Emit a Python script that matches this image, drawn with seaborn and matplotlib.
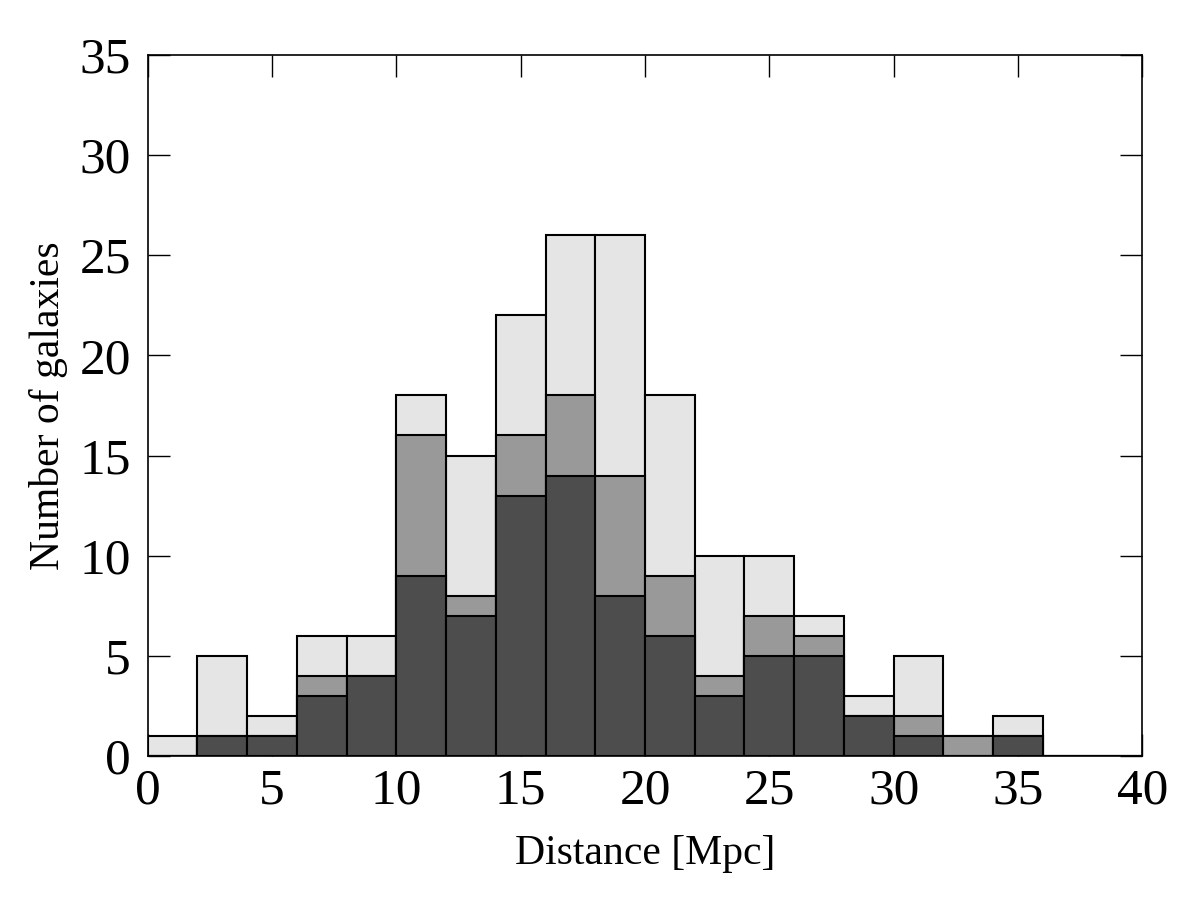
import numpy as np
import pandas as pd
import matplotlib
matplotlib.use("Agg")
import matplotlib.pyplot as plt
import seaborn as sns

bin_edges = np.arange(0, 42, 2)
bin_centers = bin_edges[:-1] + 1

total_counts = [1, 5, 2, 6, 6, 18, 15, 22, 26, 26, 18, 10, 10, 7, 3, 5, 1, 2, 0, 0]
mid_counts = [0, 1, 1, 4, 4, 16, 8, 16, 18, 14, 9, 4, 7, 6, 2, 2, 1, 1, 0, 0]
dark_counts = [0, 1, 1, 3, 4, 9, 7, 13, 14, 8, 6, 3, 5, 5, 2, 1, 0, 1, 0, 0]

sns.set_style("ticks")
plt.rcParams['font.family'] = ['Liberation Serif', 'DejaVu Serif']
plt.rcParams['text.color'] = 'black'
plt.rcParams['axes.labelcolor'] = 'black'
plt.rcParams['xtick.color'] = 'black'
plt.rcParams['ytick.color'] = 'black'

fig = plt.figure(figsize=(12, 9), dpi=100)
ax = fig.add_axes([0.123, 0.16, 0.829, 0.779])

df = pd.DataFrame({"x": bin_centers, "total": total_counts, "mid": mid_counts, "dark": dark_counts})

for col, color in [("total", "#e5e5e5"), ("mid", "#999999"), ("dark", "#4d4d4d")]:
    sns.histplot(data=df, x="x", weights=col, binwidth=2, binrange=(0, 40), ax=ax,
                 color=color, edgecolor="black", linewidth=1.5, alpha=1, element="bars")

ax.set_xlim(0, 40)
ax.set_ylim(0, 35)
ax.set_xticks(np.arange(0, 41, 5))
ax.set_yticks(np.arange(0, 36, 5))
ax.tick_params(direction="in", length=16, width=1, labelsize=37, top=True, right=True,
               colors="black", labelcolor="black")
ax.tick_params(axis="x", pad=9)
ax.tick_params(axis="y", pad=12)
for s in ax.spines.values():
    s.set_linewidth(1.2)
    s.set_color("black")
ax.set_xlabel("Distance [Mpc]", fontsize=30, labelpad=14, color="black")
ax.set_ylabel("Number of galaxies", fontsize=30, labelpad=8, color="black")

fig.savefig("out.png", dpi=100)
